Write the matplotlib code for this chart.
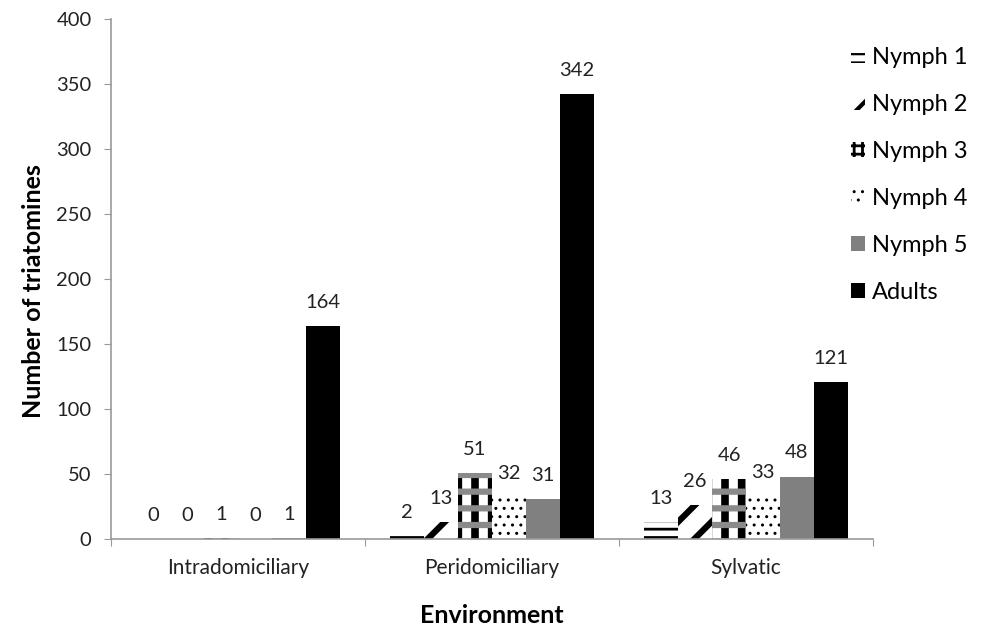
import matplotlib
matplotlib.use("Agg")
import matplotlib.pyplot as plt
from matplotlib.patches import Patch
import numpy as np

categories = ["Intradomiciliary", "Peridomiciliary", "Sylvatic"]
series = ["Nymph 1", "Nymph 2", "Nymph 3", "Nymph 4", "Nymph 5", "Adults"]
nymph1 = [0, 2, 13]
nymph2 = [0, 13, 26]
nymph3 = [1, 51, 46]
nymph4 = [0, 32, 33]
nymph5 = [1, 31, 48]
adults = [164, 342, 121]
values = [nymph1, nymph2, nymph3, nymph4, nymph5, adults]
y_ticks = [0, 50, 100, 150, 200, 250, 300, 350, 400]

plt.rcParams["font.family"] = ["Lato", "DejaVu Sans"]

fig = plt.figure(figsize=(9.84, 6.27), dpi=100)
ax = fig.add_axes([0.1128, 0.1404, 0.7744, 0.8293])

x = np.arange(len(categories))
n = len(series)
w = 0.8 / n


def hlw(artists, lw):
    for b in artists:
        if hasattr(b, "set_hatch_linewidth"):
            b.set_hatch_linewidth(lw)


for i, vals in enumerate(values):
    pos = x - 0.4 + w * (i + 0.5)
    if i == 0:
        b = ax.bar(pos, vals, width=w, facecolor="white", edgecolor="black",
                   hatch="--", linewidth=0)
        hlw(b, 2.0)
    elif i == 1:
        b = ax.bar(pos, vals, width=w, facecolor="white", edgecolor="black",
                   hatch="/", linewidth=0)
        hlw(b, 4.5)
    elif i == 2:
        b1 = ax.bar(pos, vals, width=w, facecolor="white", edgecolor="black",
                    hatch="|", linewidth=0)
        hlw(b1, 5.5)
        b2 = ax.bar(pos, vals, width=w, facecolor="none", edgecolor="#8a8a8a",
                    hatch="-", linewidth=0)
        hlw(b2, 4.5)
    elif i == 3:
        b = ax.bar(pos, vals, width=w, facecolor="white", edgecolor="black",
                   hatch="..", linewidth=0)
        hlw(b, 1.0)
    elif i == 4:
        b = ax.bar(pos, vals, width=w, facecolor="#808080", edgecolor="#808080",
                   linewidth=0)
    else:
        b = ax.bar(pos, vals, width=w, facecolor="black", edgecolor="black",
                   linewidth=0)
    for p, v in zip(pos, vals):
        ax.annotate(str(v), (p, v), xytext=(0, 17), textcoords="offset points",
                    ha="center", va="center", fontsize=14.5, color="#222222")

ax.set_xlim(-0.5, 2.5)
ax.set_ylim(0, 400)
ax.set_yticks(y_ticks)
ax.set_xticks([-0.5, 0.5, 1.5, 2.5], minor=False)
ax.set_xticklabels([])
ax.set_xticks(x, minor=True)
ax.set_xticklabels(categories, minor=True)
ax.tick_params(axis="x", which="minor", length=0, labelsize=15, pad=14,
               labelcolor="#222222")
ax.tick_params(axis="x", which="major", length=5, color="#999999", direction="out")
ax.tick_params(axis="y", length=5, color="#999999", labelsize=14.5, pad=9,
               labelcolor="#222222")
for s in ["top", "right"]:
    ax.spines[s].set_visible(False)
for s in ["left", "bottom"]:
    ax.spines[s].set_color("#999999")
    ax.spines[s].set_linewidth(1.2)

ax.set_xlabel("Environment", fontsize=18, fontweight="bold")
ax.set_ylabel("Number of triatomines", fontsize=18, fontweight="bold")
ax.xaxis.set_label_coords(0.5, -0.125)
ax.yaxis.set_label_coords(-0.087, 0.476)

# legend proxies sized so the patterns read at small size
proxies = [
    Patch(facecolor="white", edgecolor="black", hatch="--", linewidth=0),
    Patch(facecolor="white", edgecolor="black", hatch="/", linewidth=0),
    Patch(facecolor="white", edgecolor="black", hatch="++", linewidth=0),
    Patch(facecolor="white", edgecolor="black", hatch="..", linewidth=0),
    Patch(facecolor="#808080", edgecolor="#808080", linewidth=0),
    Patch(facecolor="black", edgecolor="black", linewidth=0),
]
widths = [1.6, 3.0, 2.0, 1.0, 1.0, 1.0]

leg = fig.legend(handles=proxies, labels=series, loc="upper left",
                 bbox_to_anchor=(0.855, 0.94), frameon=False, fontsize=17,
                 handlelength=0.6, handleheight=0.6, handletextpad=0.3,
                 labelspacing=1.1, borderaxespad=0)
leg_handles = getattr(leg, "legend_handles", None) or leg.legendHandles
for hnd, lw in zip(leg_handles, widths):
    hlw([hnd], lw)

fig.savefig("out.png", dpi=100)
